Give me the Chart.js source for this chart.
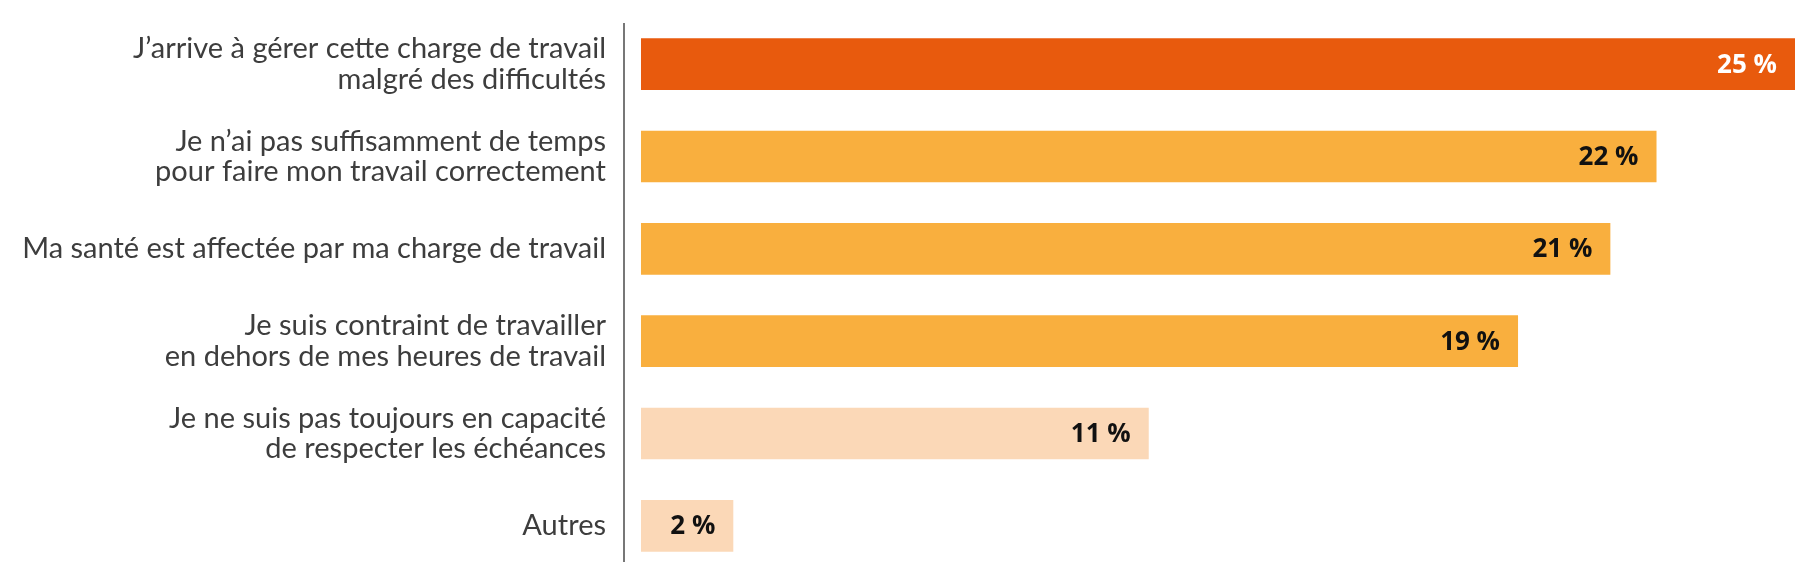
<!DOCTYPE html>
<html>
<head>
<meta charset="utf-8">
<script src="https://cdn.jsdelivr.net/npm/chart.js@4/dist/chart.umd.min.js"></script>
<style>
  html, body { margin: 0; padding: 0; background: #ffffff; }
  #wrap { width: 1812px; height: 581px; position: relative; }
</style>
</head>
<body>
<div id="wrap"><canvas id="c"></canvas></div>
<script>
const categories = [
  ["J’arrive à gérer cette charge de travail", "malgré des difficultés"],
  ["Je n’ai pas suffisamment de temps", "pour faire mon travail correctement"],
  ["Ma santé est affectée par ma charge de travail"],
  ["Je suis contraint de travailler", "en dehors de mes heures de travail"],
  ["Je ne suis pas toujours en capacité", "de respecter les échéances"],
  ["Autres"]
];
const values = [25, 22, 21, 19, 11, 2];
const valueLabels = ["25 %", "22 %", "21 %", "19 %", "11 %", "2 %"];
const barColors = ["#E85A0D", "#F9AF3E", "#F9AF3E", "#F9AF3E", "#FBD8B7", "#FBD8B7"];
const labelColors = ["#ffffff", "#111111", "#111111", "#111111", "#111111", "#111111"];

const valueLabelPlugin = {
  id: 'valueLabels',
  afterDatasetsDraw(chart) {
    const ctx = chart.ctx;
    const meta = chart.getDatasetMeta(0);
    ctx.save();
    ctx.font = 'bold 26px "Open Sans"';
    ctx.textAlign = 'right';
    ctx.textBaseline = 'middle';
    meta.data.forEach((bar, i) => {
      ctx.fillStyle = labelColors[i];
      ctx.fillText(valueLabels[i], bar.x - 18, bar.y + 1);
    });
    ctx.restore();
  }
};

const axisLinePlugin = {
  id: 'axisLine',
  beforeDatasetsDraw(chart) {
    const { ctx, chartArea } = chart;
    ctx.save();
    ctx.strokeStyle = '#777777';
    ctx.lineWidth = 2;
    ctx.beginPath();
    ctx.moveTo(chartArea.left, chartArea.top + 5);
    ctx.lineTo(chartArea.left, chartArea.bottom - 10);
    ctx.stroke();
    ctx.restore();
  }
};

new Chart(document.getElementById('c'), {
  type: 'bar',
  data: {
    labels: categories,
    datasets: [{
      data: values,
      backgroundColor: barColors,
      borderWidth: 0,
      barPercentage: 0.56,
      categoryPercentage: 1.0
    }]
  },
  options: {
    indexAxis: 'y',
    responsive: true,
    maintainAspectRatio: false,
    animation: false,
    layout: { padding: { top: 18, bottom: 9, left: 0, right: 17 } },
    plugins: { legend: { display: false }, tooltip: { enabled: false } },
    scales: {
      x: {
        display: false,
        min: -0.368,
        max: 25
      },
      y: {
        grid: { display: false, drawTicks: false },
        border: { display: false },
        ticks: {
          color: '#3d3d3d',
          padding: 18,
          font: { family: 'Lato', size: 29, lineHeight: 1.05 }
        },
        afterFit(scale) {
          scale.width = 624;
          scale.paddingTop = 0;
          scale.paddingBottom = 0;
        }
      }
    }
  },
  plugins: [valueLabelPlugin, axisLinePlugin]
});
</script>
</body>
</html>
